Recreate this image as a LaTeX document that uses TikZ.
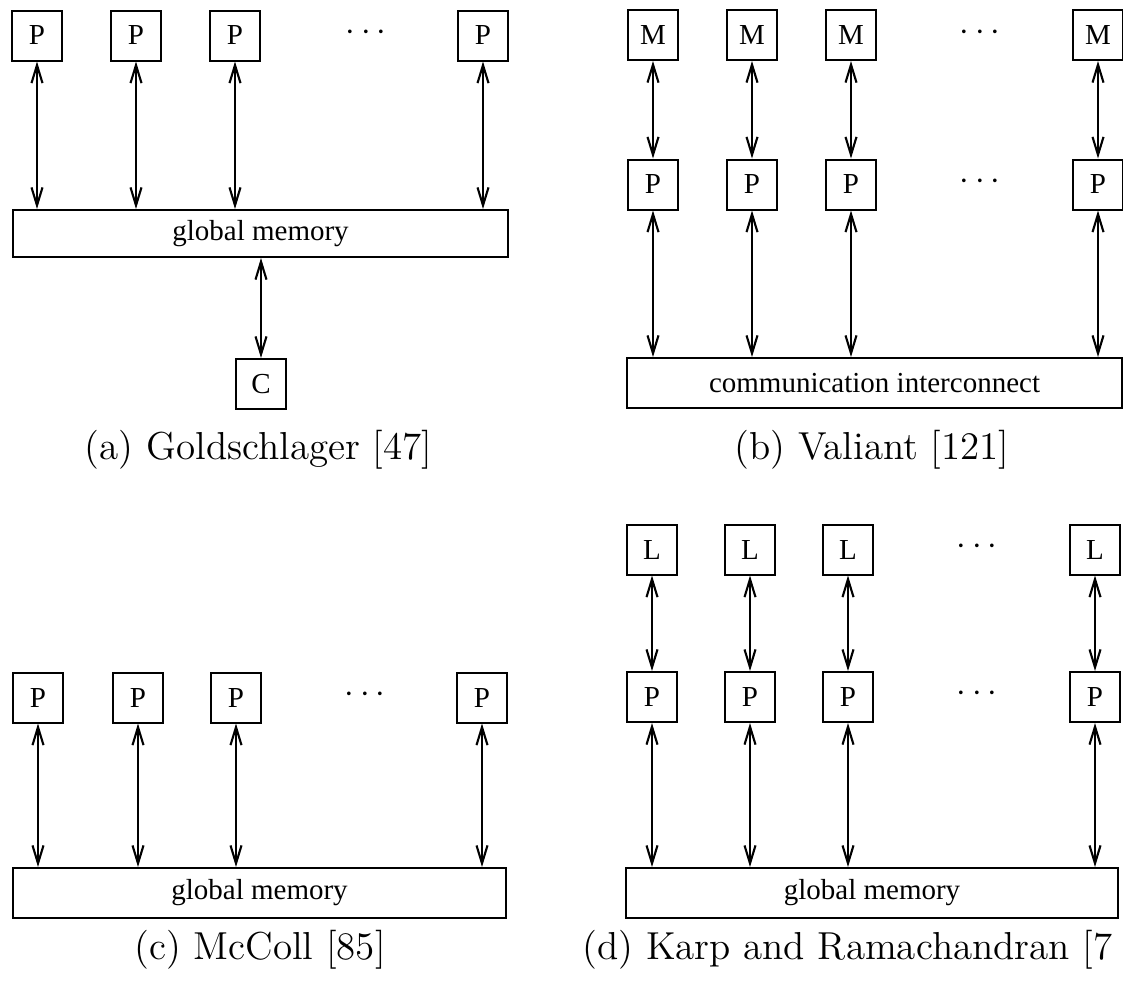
\documentclass[tikz,border=0pt]{standalone}
\usepackage{fontspec}
\newfontfamily\boxfont{Liberation Serif}
\newfontfamily\capfont{lmroman12-regular}[Extension=.otf]
\usetikzlibrary{arrows.meta}
\begin{document}
\begin{tikzpicture}[x=0.5pt,y=-0.5pt,
  unit/.style={draw, line width=1pt, minimum width=25pt, minimum height=25pt,
    inner sep=0pt, font=\boxfont\fontsize{14.5}{16}\selectfont},
  bus/.style={draw, line width=1pt, minimum height=25pt, inner sep=0pt,
    font=\boxfont\fontsize{14.5}{16}\selectfont},
  link/.style={line width=1.05pt,
    {Straight Barb[length=9pt,width=5.5pt]}-{Straight Barb[length=9pt,width=5.5pt]}},
  dotsnode/.style={font=\fontsize{16}{18}\selectfont, inner sep=0pt},
  caption/.style={font=\capfont\fontsize{19.5}{23}\selectfont, inner sep=0pt, anchor=base}]
\useasboundingbox (0,0) rectangle (1123,980);

% (a) processors sharing a global memory, with a controller
\foreach \n/\x in {1/37,2/136,3/235,4/483}
  \node[unit] (aP\n) at (\x,35.5) {P};
\node[dotsnode] (aD) at (366,33) {$\cdots$};
\node[bus, minimum width=247.5pt, minimum height=23.5pt] (aG) at (260.5,233.5) {global memory};
\foreach \n in {1,...,4}
  \draw[link] (aP\n.south) -- (aP\n.south |- aG.north);
\node[unit] (aC) at (261,384) {C};
\draw[link] (aG.south -| aC.north) -- (aC.north);
\node[caption] (aCap) at (258.5,459.5) {(a) Goldschlager [47]};

% (b) processor/memory pairs on an interconnect
\foreach \n/\x in {1/653,2/752,3/851,4/1098} {
  \node[unit] (bM\n) at (\x,35) {M};
  \node[unit] (bP\n) at (\x,184.5) {P};
}
\node[dotsnode] (bD1) at (980,33) {$\cdots$};
\node[dotsnode] (bD2) at (980,182) {$\cdots$};
\node[bus, minimum width=247.5pt] (bN) at (874.5,383) {communication interconnect};
\foreach \n in {1,...,4} {
  \draw[link] (bM\n.south) -- (bP\n.north);
  \draw[link] (bP\n.south) -- (bP\n.south |- bN.north);
}
\node[caption] (bCap) at (872,459.5) {(b) Valiant [121]};

% (c) processors on a global memory
\foreach \n/\x in {1/38,2/138,3/236,4/482}
  \node[unit] (cP\n) at (\x,697.5) {P};
\node[dotsnode] (cD) at (365,695) {$\cdots$};
\node[bus, minimum width=246.5pt] (cG) at (259.5,893) {global memory};
\foreach \n in {1,...,4}
  \draw[link] (cP\n.south) -- (cP\n.south |- cG.north);
\node[caption] (cCap) at (260,959.5) {(c) McColl [85]};

% (d) processors with local memories on a global memory
\foreach \n/\x in {1/652,2/750,3/848,4/1095} {
  \node[unit] (dL\n) at (\x,549.5) {L};
  \node[unit] (dP\n) at (\x,697) {P};
}
\node[dotsnode] (dD1) at (977,547) {$\cdots$};
\node[dotsnode] (dD2) at (977,694) {$\cdots$};
\node[bus, minimum width=246pt] (dG) at (872,893) {global memory};
\foreach \n in {1,...,4} {
  \draw[link] (dL\n.south) -- (dP\n.north);
  \draw[link] (dP\n.south) -- (dP\n.south |- dG.north);
}
\node[caption, anchor=base west] (dCap) at (582,959.5) {(d) Karp and Ramachandran [7};
\end{tikzpicture}
\end{document}
